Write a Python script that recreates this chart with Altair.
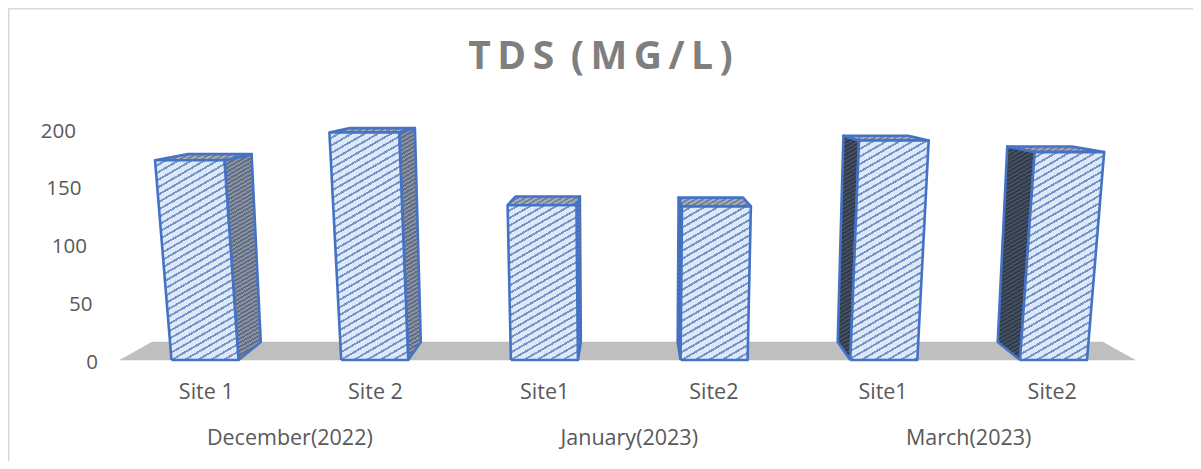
import math
import altair as alt
import pandas as pd

# ---- values ----
sites = ["Site 1", "Site 2", "Site1", "Site2", "Site1", "Site2"]
tds = [173, 197, 134, 133, 190, 180]
months = ["December(2022)", "January(2023)", "March(2023)"]
y_ticks = [0, 50, 100, 150, 200]

# ---- scales: x in category slots (one slot = 169.7 px), y in mg/L (1.155 px each) ----
W, H = 1185, 453
X_PX, Y_PX = 169.7, 1.155
X_DOMAIN = [(8 - 205) / X_PX, (8 + W - 205) / X_PX]
Y_DOMAIN = [(360 - (8 + H)) / Y_PX, (360 - 8) / Y_PX]
XC = 2.5              # vanishing column
HALF = 33.5 / X_PX    # half bar width
FONT = "Open Sans"

x_enc = alt.X("x:Q", scale=alt.Scale(domain=X_DOMAIN, nice=False, zero=False), axis=None)
y_enc = alt.Y("y:Q", scale=alt.Scale(domain=Y_DOMAIN, nice=False, zero=False), axis=None)


# 3-D look of the Excel chart: front corners lean with height, back corners move to the centre
def front(x, v):
    return x + (x - XC) * 2.08e-4 * v, v


def back(x, v):
    fx, _ = front(x, v)
    return fx + (XC - fx) * (0.057 + 5.8e-5 * v), v + 15.6 - 0.06 * v


def stripes(w, h, period, bg, fg, share=0.35, angle=30):
    a = math.radians(angle)
    m, n = w * math.sin(a), h * math.cos(a)
    g = (m + n) / (m * m + n * n)
    count = max(2, int((m + n) / period))
    stops = []
    for j in range(count):
        s0 = j / count
        s1 = (j + 1 - share) / count
        s2 = (j + 1) / count
        stops += [
            alt.GradientStop(offset=s0, color=bg),
            alt.GradientStop(offset=s1, color=bg),
            alt.GradientStop(offset=s1, color=fg),
            alt.GradientStop(offset=s2, color=fg),
        ]
    return alt.LinearGradient(gradient="linear", x1=0, y1=0, x2=g * m, y2=g * n, stops=stops)


def face(points, period, bg, fg, share=0.35):
    closed = list(points) + [points[0]]
    df = pd.DataFrame({"x": [p[0] for p in closed], "y": [p[1] for p in closed], "o": list(range(len(closed)))})
    w = (df.x.max() - df.x.min()) * X_PX
    h = (df.y.max() - df.y.min()) * Y_PX
    return alt.Chart(df).mark_line(
        fill=stripes(w, h, period, bg, fg, share),
        stroke="#4472C4",
        strokeWidth=2.6,
        strokeJoin="round",
    ).encode(x=x_enc, y=y_enc, order=alt.Order("o:Q"))


floor_pts = [(-0.501, 0), (5.48, 0), (5.29, 15.6), (-0.312, 15.6), (-0.501, 0)]
floor_df = pd.DataFrame({"x": [p[0] for p in floor_pts], "y": [p[1] for p in floor_pts], "o": range(5)})
floor = alt.Chart(floor_df).mark_line(fill="#BFBFBF", stroke="#BFBFBF", strokeWidth=0.5).encode(
    x=x_enc, y=y_enc, order=alt.Order("o:Q")
)

layers = [floor]
for i, v in enumerate(tds):
    l, r = i - HALF, i + HALF
    left_side = i > XC
    if left_side:
        bgc, fgc = "#46505F", "#2F3A4E"
        if i == 3:
            bgc, fgc = "#5F78A8", "#3F5A94"
        side = [front(l, 0), back(l, 0), back(l, v), front(l, v)]
    else:
        bgc, fgc = "#8E929A", "#5E6C8C"
        if i == 2:
            bgc, fgc = "#6F8BC0", "#4A68A8"
        side = [front(r, 0), back(r, 0), back(r, v), front(r, v)]
    layers.append(face(side, 3.5, bgc, fgc, 0.5))
    top = [front(l, v), back(l, v), back(r, v), front(r, v)]
    layers.append(face(top, 3.5, "#A3ADBD", "#75829C", 0.5))
    layers.append(face([front(l, 0), front(r, 0), front(r, v), front(l, v)], 6.5, "#DCE9F9", "#7A94CA", 0.3))

# y axis labels follow the lean of the wall
tick_df = pd.DataFrame({"x": [front((98 - 205) / X_PX, t)[0] for t in y_ticks], "y": y_ticks, "t": [str(t) for t in y_ticks]})
layers.append(alt.Chart(tick_df).mark_text(font=FONT, fontSize=20.5, color="#595959", align="right", baseline="middle", dy=2.5).encode(x=x_enc, y=y_enc, text="t:N"))

site_df = pd.DataFrame({"x": [XC + (i - XC) * 0.997 for i in range(6)], "y": [(360 - 391) / Y_PX] * 6, "t": sites})
layers.append(alt.Chart(site_df).mark_text(font=FONT, fontSize=21.5, color="#595959", baseline="middle", dy=2).encode(x=x_enc, y=y_enc, text="t:N"))

month_df = pd.DataFrame({"x": [0.5, 2.5, 4.5], "y": [(360 - 436) / Y_PX] * 3, "t": months})
layers.append(alt.Chart(month_df).mark_text(font=FONT, fontSize=21.5, color="#595959", baseline="middle", dy=2.5).encode(x=x_enc, y=y_enc, text="t:N"))

# chart-area border: only its top and left edges are in the picture
frame_left = alt.Chart(pd.DataFrame({"a": [0]})).mark_rule(color="#D9D9D9", strokeWidth=2).encode(x=alt.value(0.5), y=alt.value(0), y2=alt.value(H))
frame_top = alt.Chart(pd.DataFrame({"a": [0]})).mark_rule(color="#D9D9D9", strokeWidth=2).encode(y=alt.value(0.5), x=alt.value(0), x2=alt.value(W))
layers += [frame_left, frame_top]

chart = alt.layer(*layers).properties(
    width=W,
    height=H,
    autosize=alt.AutoSizeParams(type="none"),
    padding=0,
    background="white",
    title=alt.TitleParams(
        "T\u2009D\u2009S\u2009 (\u2009M\u2009G\u2009/\u2009L\u2009)",
        font=FONT,
        fontSize=39,
        fontWeight="bold",
        color="#7F7F7F",
        anchor="middle",
        baseline="alphabetic",
        offset=0,
        dy=101,
    ),
).configure_view(stroke=None)

chart.save("out.html", embed_options={"renderer": "svg", "actions": False})
